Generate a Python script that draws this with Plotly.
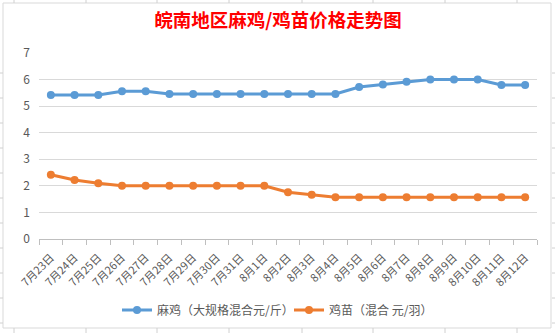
import plotly.graph_objects as go

categories = ["7月23日", "7月24日", "7月25日", "7月26日", "7月27日", "7月28日", "7月29日",
              "7月30日", "7月31日", "8月1日", "8月2日", "8月3日", "8月4日", "8月5日",
              "8月6日", "8月7日", "8月8日", "8月9日", "8月10日", "8月11日", "8月12日"]
maji = [5.42, 5.42, 5.42, 5.56, 5.56, 5.46, 5.46, 5.46, 5.46, 5.46, 5.46, 5.46, 5.46,
        5.72, 5.81, 5.92, 6.0, 6.0, 6.0, 5.8, 5.8]
jimiao = [2.42, 2.22, 2.1, 2.0, 2.0, 2.0, 2.0, 2.0, 2.0, 2.0, 1.76, 1.67, 1.57, 1.57,
          1.57, 1.57, 1.57, 1.57, 1.57, 1.57, 1.57]
series_names = ["麻鸡（大规格混合元/斤）", "鸡苗（混合 元/羽）"]
title_text = "皖南地区麻鸡/鸡苗价格走势图"

W, H = 555, 333
ML, MR, MT, MB = 39, 18, 53, 94
PW, PH = W - ML - MR, H - MT - MB
FONT = "Noto Sans CJK SC"


def px(x):
    return (x - ML) / PW


def py(y):
    return (H - MB - y) / PH


fig = go.Figure()
fig.add_trace(go.Scatter(x=categories, y=maji, name=series_names[0], mode="lines+markers",
                         line=dict(color="#5b9bd5", width=3),
                         marker=dict(color="#5b9bd5", size=8), legend="legend"))
fig.add_trace(go.Scatter(x=categories, y=jimiao, name=series_names[1], mode="lines+markers",
                         line=dict(color="#ed7d31", width=3),
                         marker=dict(color="#ed7d31", size=8), legend="legend2"))

shapes = []
# chart border
shapes.append(dict(type="rect", xref="paper", yref="paper", x0=px(3), x1=px(551), y0=py(328), y1=py(3),
                   line=dict(color="#d9d9d9", width=1), fillcolor="rgba(0,0,0,0)", layer="below"))
# spreadsheet grid stubs outside chart
for cx in [14, 86, 157, 229, 302, 373, 445, 517]:
    shapes.append(dict(type="line", xref="paper", yref="paper", x0=px(cx), x1=px(cx), y0=py(0), y1=py(3),
                       line=dict(color="#d0d0d0", width=1)))
    shapes.append(dict(type="line", xref="paper", yref="paper", x0=px(cx), x1=px(cx), y0=py(328), y1=py(333),
                       line=dict(color="#d0d0d0", width=1)))
for ry in [73, 98, 123, 148, 173, 198, 223, 248, 273, 298, 323]:
    shapes.append(dict(type="line", xref="paper", yref="paper", x0=px(0), x1=px(3), y0=py(ry), y1=py(ry),
                       line=dict(color="#d0d0d0", width=1)))
    shapes.append(dict(type="line", xref="paper", yref="paper", x0=px(552), x1=px(555), y0=py(ry), y1=py(ry),
                       line=dict(color="#d0d0d0", width=1)))

legend_common = dict(orientation="h", xanchor="left", xref="container", y=1 - 310 / H,
                     yanchor="middle", yref="container", font=dict(family=FONT, size=12, color="#595959"),
                     itemwidth=30, bgcolor="rgba(0,0,0,0)")

fig.update_layout(
    width=W, height=H,
    margin=dict(l=ML, r=MR, t=MT, b=MB, autoexpand=False),
    paper_bgcolor="white", plot_bgcolor="white",
    font=dict(family=FONT, color="#595959"),
    title=dict(text="<b>" + title_text + "</b>", x=278 / W, xanchor="center", y=1 - 21 / H, yanchor="middle",
               yref="container", font=dict(family=FONT, size=18.5, color="#ff0000")),
    showlegend=True,
    legend=dict(x=117 / W, **legend_common),
    legend2=dict(x=289 / W, **legend_common),
    xaxis=dict(type="category", range=[-0.5, len(categories) - 0.5], showgrid=False,
               showline=True, linecolor="#bfbfbf", linewidth=1, automargin=False,
               ticks="outside", ticklen=5, tickcolor="#bfbfbf", tickson="boundaries",
               tickangle=-45, ticklabelstandoff=7, tickfont=dict(size=11, color="#595959")),
    yaxis=dict(range=[0, 7], dtick=1, showgrid=True, gridcolor="#d9d9d9", gridwidth=1,
               zeroline=False, showline=False, ticks="", ticklabelstandoff=8, automargin=False,
               tickfont=dict(size=12, color="#595959")),
    shapes=shapes,
)

fig.write_html("out.html")
